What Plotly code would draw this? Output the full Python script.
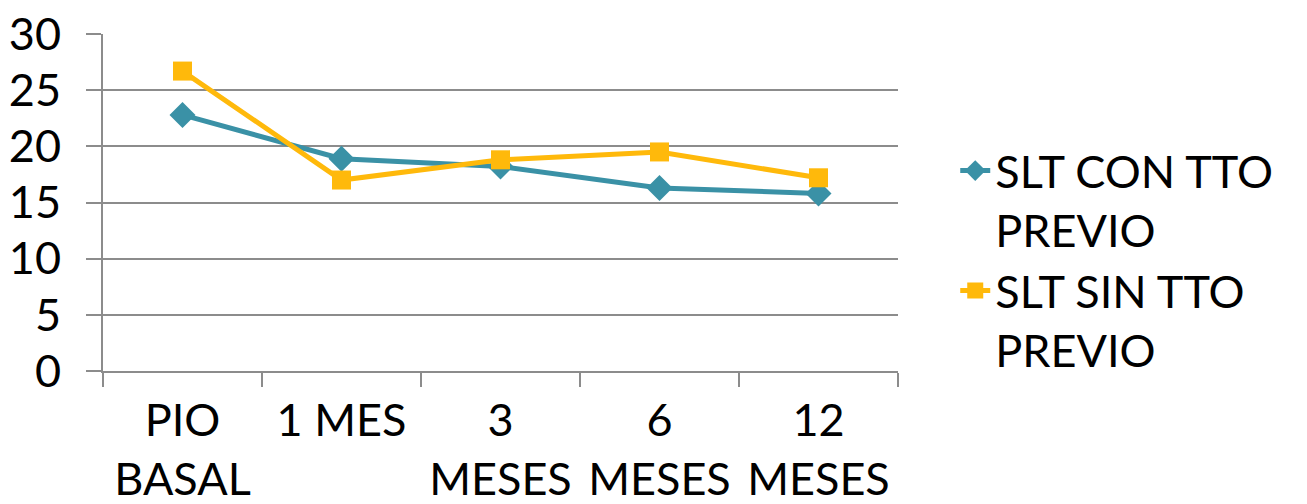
import plotly.graph_objects as go

categories = ["PIO<br>BASAL", "1 MES", "3<br>MESES", "6<br>MESES", "12<br>MESES"]
con_tto = [22.8, 18.9, 18.2, 16.3, 15.8]
sin_tto = [26.7, 17.0, 18.8, 19.5, 17.2]
series_names = ["SLT CON TTO<br>PREVIO", "SLT SIN TTO<br>PREVIO"]
y_ticks = [0, 5, 10, 15, 20, 25, 30]

FONT = "Lato"
FS = 45
fig = go.Figure()
fig.add_trace(go.Scatter(
    x=categories, y=con_tto, name=series_names[0], mode="lines+markers",
    line=dict(color="#3A91A6", width=5),
    marker=dict(symbol="diamond", size=20, color="#3A91A6"),
))
fig.add_trace(go.Scatter(
    x=categories, y=sin_tto, name=series_names[1], mode="lines+markers",
    line=dict(color="#FFB90B", width=5),
    marker=dict(symbol="square", size=19, color="#FFB90B"),
))

fig.update_layout(
    width=1299, height=496,
    margin=dict(l=95, r=409, t=26, b=133, autoexpand=False),
    paper_bgcolor="white", plot_bgcolor="white",
    font=dict(family=FONT, size=FS, color="black"),
    showlegend=True,
    legend=dict(x=1.072, xanchor="left", y=0.33, yanchor="middle",
                valign="top", font=dict(size=FS, family=FONT),
                tracegroupgap=41, bgcolor="rgba(0,0,0,0)"),
    xaxis=dict(
        type="category", range=[-0.5, len(categories) - 0.5],
        showgrid=False, showline=True, linecolor="#8C8C8C", linewidth=2,
        ticks="outside", ticklen=14, tickcolor="#8C8C8C", tickwidth=2,
        tickson="boundaries", mirror=False, zeroline=False, automargin=False,
        ticklabelstandoff=9, ticklabeloverflow="allow",
        tickfont=dict(size=FS, family=FONT),
    ),
    yaxis=dict(
        range=[0, 30], tickvals=y_ticks, showgrid=True, gridcolor="#8C8C8C", gridwidth=2,
        showline=True, linecolor="#8C8C8C", linewidth=2,
        ticks="outside", ticklen=15, tickcolor="#8C8C8C", tickwidth=2,
        zeroline=False, automargin=False, ticklabelstandoff=16,
        ticklabeloverflow="allow",
        tickfont=dict(size=FS, family=FONT),
    ),
)

fig.write_html("out.html")
